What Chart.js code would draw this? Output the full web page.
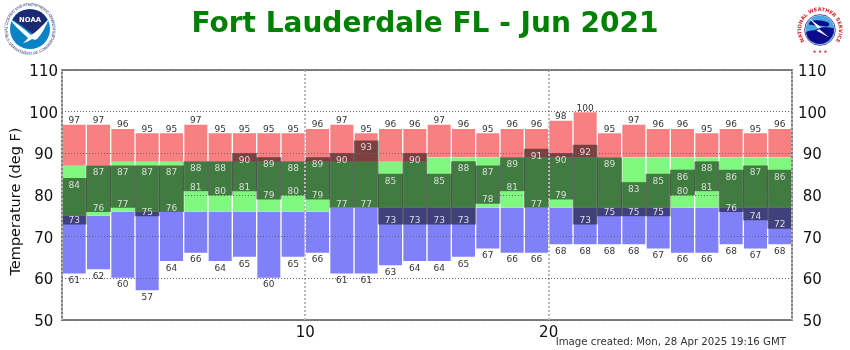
<!DOCTYPE html>
<html>
<head>
<meta charset="utf-8">
<title>Fort Lauderdale FL - Jun 2021</title>
<script src="https://cdn.jsdelivr.net/npm/chart.js@4"></script>
<style>
    html, body { margin: 0; padding: 0; background: #fff; }
    #wrap { position: relative; width: 850px; height: 350px; overflow: hidden; }
    #chart { position: absolute; left: 0; top: 0; }
    .logo { position: absolute; }
</style>
</head>
<body>
<div id="wrap">
    <canvas id="chart" width="850" height="350"></canvas>

    <!-- NOAA logo -->
    <svg class="logo" style="left:3px;top:2px" width="54" height="54" viewBox="0 0 54 54">
        <defs>
            <path id="noaaTop" d="M 5.5 33 A 22.5 22.5 0 1 1 48.5 33"/>
            <path id="noaaBot" d="M 4 31 A 23.4 23.4 0 0 0 50 31"/>
        </defs>
        <circle cx="27" cy="27" r="25.5" fill="#fff" stroke="#b8bcc8" stroke-width="0.6"/>
        <text font-family="Liberation Sans" font-size="3.6" fill="#1d2a6b"><textPath href="#noaaTop" startOffset="50%" text-anchor="middle">NATIONAL OCEANIC AND ATMOSPHERIC ADMINISTRATION</textPath></text>
        <text font-family="Liberation Sans" font-size="3.6" fill="#1d2a6b"><textPath href="#noaaBot" startOffset="50%" text-anchor="middle" dominant-baseline="hanging">U.S. DEPARTMENT OF COMMERCE</textPath></text>
        <circle cx="27" cy="27" r="20" fill="#0a82c6"/>
        <path d="M 9.5 17.5 A 20 20 0 0 1 44.5 17.5 C 40 24 34 30 30 32 C 25 28 18 23 9.5 17.5 Z" fill="#1c2a74"/>
        <path d="M 7 17 C 15 22 22 28 28 33 C 32 31 39 24 46 17 C 42 26 38 33 34 37 C 33 38 31 38 29 37 C 26 39 24 40 20 41 C 22 39 24 38 25 36 C 19 30 12 25 7 17 Z" fill="#fff"/>
        <text x="27" y="19.5" text-anchor="middle" font-family="DejaVu Sans" font-weight="bold" font-size="6.8" fill="#fff">NOAA</text>
    </svg>

    <!-- NWS logo -->
    <svg class="logo" style="left:795px;top:5px" width="50" height="50" viewBox="0 0 50 50">
        <defs>
            <path id="nwsRing" d="M 12.8 39.55 A 19 19 0 1 1 37.2 39.55"/>
        </defs>
        <text font-family="DejaVu Sans" font-weight="bold" font-size="5" fill="#d8222a"><textPath href="#nwsRing" startOffset="50%" text-anchor="middle">NATIONAL WEATHER SERVICE</textPath></text>
        <text x="25" y="48" text-anchor="middle" font-family="DejaVu Sans" font-size="4.5" fill="#d8222a">★ ★ ★</text>
        <g transform="translate(25 25) scale(0.93) translate(-25 -25)">
            <circle cx="25" cy="25" r="16.5" fill="#fff" stroke="#10107a" stroke-width="0.8"/>
            <circle cx="25" cy="25" r="15.5" fill="#4aa8e0"/>
            <path d="M 9.8 28 C 14 24 18 27 22 24 C 27 21 34 22 40 23 A 15.5 15.5 0 0 1 12 33.5 Z" fill="#0b0b8c"/>
            <path d="M 14 16 C 20 14 26 14 34 17 C 36 19 35 22 30 21 C 24 20 18 20 13 19 Z" fill="#0b0b8c"/>
            <path d="M 13 12 L 26 22 L 23 23 L 35 33 L 21 25.5 L 24 24.5 Z" fill="#fff"/>
        </g>
    </svg>
</div>

<script>
    const days = Array.from({ length: 30 }, (_, i) => String(i + 1));

    // Values, one per day of the month
    const recordHigh = [97, 97, 96, 95, 95, 97, 95, 95, 95, 95, 96, 97, 95, 96, 96, 97, 96, 95, 96, 96, 98, 100, 95, 97, 96, 96, 95, 96, 95, 96];
    const recordLow = [61, 62, 60, 57, 64, 66, 64, 65, 60, 65, 66, 61, 61, 63, 64, 64, 65, 67, 66, 66, 68, 68, 68, 68, 67, 66, 66, 68, 67, 68];
    const normalHigh = [87, 87, 88, 88, 88, 88, 88, 88, 88, 88, 88, 88, 88, 88, 88, 89, 89, 89, 89, 89, 89, 89, 89, 89, 89, 89, 89, 89, 89, 89];
    const normalLow = [75, 75, 76, 76, 76, 76, 76, 76, 76, 76, 76, 77, 77, 77, 77, 77, 77, 77, 77, 77, 77, 77, 77, 77, 77, 77, 77, 77, 77, 77];
    const observedHigh = [84, 87, 87, 87, 87, 88, 88, 90, 89, 88, 89, 90, 93, 85, 90, 85, 88, 87, 89, 91, 90, 92, 89, 83, 85, 86, 88, 86, 87, 86];
    const observedLow = [73, 76, 77, 75, 76, 81, 80, 81, 79, 80, 79, 77, 77, 73, 73, 73, 73, 78, 81, 77, 79, 73, 75, 75, 75, 80, 81, 76, 74, 72];

    const yAxisTitle = "Temperature (deg F)";
    const createdText = "Image created: Mon, 28 Apr 2025 19:16 GMT";

    function pairs(from, to) {
        return from.map((value, i) => [value, to[i]]);
    }

    // Gray frame round the plot, under the dotted grid
    const framePlugin = {
        id: "frame",
        afterDatasetsDraw(chart) {
            const { ctx, chartArea: a } = chart;
            ctx.save();
            ctx.strokeStyle = "#808080";
            ctx.lineWidth = 2;
            ctx.strokeRect(a.left, a.top, a.right - a.left, a.bottom - a.top);
            ctx.restore();
        },
    };

    // Value labels on the bars, the axis title and the footer text
    const labelPlugin = {
        id: "labels",
        afterDraw(chart) {
            const { ctx, scales } = chart;
            const put = (values, color, offset) => {
                ctx.fillStyle = color;
                values.forEach((value, i) => {
                    ctx.fillText(value, scales.x.getPixelForValue(i), scales.y.getPixelForValue(value) + offset);
                });
            };
            ctx.save();
            ctx.font = "9px 'DejaVu Sans'";
            ctx.textAlign = "center";
            ctx.textBaseline = "alphabetic";
            put(recordHigh, "#333333", -1);
            put(recordLow, "#333333", 9);
            put(observedHigh, "#dddddd", 9.5);
            put(observedLow, "#dddddd", -1);

            ctx.font = "10.2px 'DejaVu Sans'";
            ctx.fillStyle = "#333333";
            ctx.textAlign = "right";
            ctx.fillText(createdText, 786, 345);

            // Drawn here because the title sits off the centre of the axis
            ctx.font = "14.5px 'DejaVu Sans'";
            ctx.fillStyle = "#111111";
            ctx.textAlign = "center";
            ctx.translate(20, 201.5);
            ctx.rotate(-Math.PI / 2);
            ctx.fillText(yAxisTitle, 0, 0);
            ctx.restore();
        },
    };

    const barBase = { xAxisID: "x", yAxisID: "y", barPercentage: 1, categoryPercentage: 1, borderSkipped: false };
    const edgeColor = "rgba(255, 255, 255, 0.55)";

    const data = {
        labels: days,
        datasets: [
            {
                ...barBase,
                label: "Observed",
                data: pairs(observedLow, observedHigh),
                backgroundColor: "rgba(0, 0, 0, 0.5)",
                borderWidth: 0,
            },
            {
                ...barBase,
                label: "Normal",
                data: pairs(normalLow, normalHigh),
                backgroundColor: "#80f880",
                borderColor: edgeColor,
                borderWidth: { left: 1, right: 1, top: 0, bottom: 0 },
            },
            {
                ...barBase,
                label: "Record high",
                data: pairs(normalHigh, recordHigh),
                backgroundColor: "#f88080",
                borderColor: edgeColor,
                borderWidth: { left: 1, right: 1, top: 1, bottom: 0 },
            },
            {
                ...barBase,
                label: "Record low",
                data: pairs(recordLow, normalLow),
                backgroundColor: "#8080f8",
                borderColor: edgeColor,
                borderWidth: { left: 1, right: 1, top: 0, bottom: 1 },
            },
        ],
    };

    new Chart(document.getElementById("chart"), {
        type: "bar",
        data,
        plugins: [framePlugin, labelPlugin],
        options: {
            responsive: false,
            animation: false,
            layout: { padding: 0, autoPadding: false },
            scales: {
                x: { display: false, stacked: true },
                // Day axis: the ticks sit on the bar edges, not the bar centres
                days: {
                    type: "linear",
                    position: "bottom",
                    min: 0,
                    max: 30,
                    offset: false,
                    afterFit(scale) { scale.height = 30; },
                    border: { display: false, dash: [2, 2] },
                    grid: { z: 1, offset: false, color: "#b8b8b8", lineWidth: 2, drawTicks: false },
                    ticks: {
                        stepSize: 10,
                        padding: 4,
                        maxRotation: 0,
                        color: "#111111",
                        font: { size: 15, family: "'DejaVu Sans'" },
                        callback: (value) => (value === 0 || value === 30 ? "" : value),
                    },
                },
                y: {
                    min: 50,
                    max: 110,
                    afterFit(scale) { scale.width = 62; },
                    border: { display: false, dash: [1, 2] },
                    grid: { z: 1, color: "#666666", drawTicks: false },
                    ticks: {
                        color: "#111111",
                        font: { size: 15, family: "'DejaVu Sans'" },
                        stepSize: 10,
                        padding: 4,
                        labelOffset: 2,
                        crossAlign: "center",
                    },
                },
                yRight: {
                    position: "right",
                    min: 50,
                    max: 110,
                    afterFit(scale) { scale.width = 58; },
                    border: { display: false },
                    grid: { display: false, drawTicks: false },
                    ticks: {
                        color: "#111111",
                        font: { size: 15, family: "'DejaVu Sans'" },
                        stepSize: 10,
                        padding: 6,
                        labelOffset: 2,
                        crossAlign: "center",
                    },
                },
            },
            plugins: {
                legend: { display: false },
                tooltip: { enabled: false },
                title: {
                    display: true,
                    text: "Fort Lauderdale FL - Jun 2021",
                    color: "#008000",
                    font: { size: 28, weight: "bold", family: "'DejaVu Sans'", lineHeight: 1.2 },
                    padding: { top: 8, bottom: 28.4 },
                },
            },
        },
    });
</script>
</body>
</html>
